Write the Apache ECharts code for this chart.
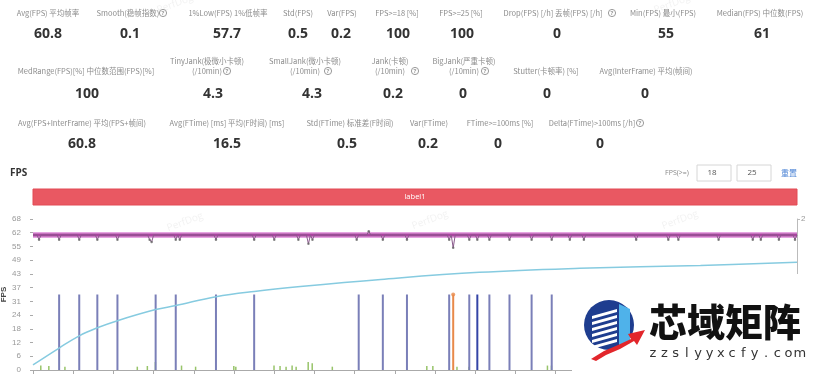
<!DOCTYPE html>
<html><head><meta charset="utf-8">
<script src="https://cdn.jsdelivr.net/npm/echarts@6/dist/echarts.min.js"></script>
<style>html,body{margin:0;padding:0;background:#fff}#c{width:832px;height:374px}</style>
</head><body><div id="c"></div>
<script>
// ---------- summary statistics ----------
const row1Labels = ['Avg(FPS) 平均帧率','Smooth(稳帧指数)','1%Low(FPS) 1%低帧率','Std(FPS)','Var(FPS)','FPS>=18 [%]','FPS>=25 [%]','Drop(FPS) [/h] 丢帧(FPS) [/h]','Min(FPS) 最小(FPS)','Median(FPS) 中位数(FPS)'];
const row1Values = ['60.8','0.1','57.7','0.5','0.2','100','100','0','55','61'];
const row2Labels = ['MedRange(FPS)[%] 中位数范围(FPS)[%]','TinyJank(极微小卡顿)\n(/10min)','SmallJank(微小卡顿)\n(/10min)','Jank(卡顿)\n(/10min)','BigJank(严重卡顿)\n(/10min)','Stutter(卡顿率) [%]','Avg(InterFrame) 平均(帧间)'];
const row2Values = ['100','4.3','4.3','0.2','0','0','0'];
const row3Labels = ['Avg(FPS+InterFrame) 平均(FPS+帧间)','Avg(FTime) [ms] 平均(F时间) [ms]','Std(FTime) 标准差(F时间)','Var(FTime)','FTime>=100ms [%]','Delta(FTime)>100ms [/h]'];
const row3Values = ['60.8','16.5','0.5','0.2','0','0'];

// ---------- chart data ----------
const yTickLabels = ['0','6','12','18','24','31','37','43','49','55','62','68'];
const sampleCount = 381;          // time samples 0..380
const fpsBase = 60.8;
const fpsBandOuter = [59.4, 62.1];
const fpsBandInner = [60.1, 61.5];
const fpsDipTimes  = [3, 13, 23, 32, 42, 58, 59, 71, 73, 91, 110, 120, 132, 137, 139, 161, 167, 174, 186, 207, 209, 217, 221, 227, 237, 248, 258, 267, 274, 300, 316, 321, 341, 358, 362, 371, 379];
const fpsDipValues = [58.7,58.7,58.7,58.7,58.7,58.7,57.6,58.7,58.7,58.7,58.7,58.7,58.7,56.8,58.7,58.7,62.5,58.7,58.7,58.7,55,58.7,58.7,58.7,58.7,58.7,58.7,58.7,58.7,58.7,58.7,58.7,58.7,58.7,58.7,58.7,58.7];
const smoothTimes  = [0, 13, 23, 32, 42, 61, 71, 91, 110, 133, 173, 222, 272, 332, 380];
const smoothValues = [2.3, 9.9, 15.4, 19, 22.2, 27.2, 29, 33, 35.4, 37.6, 40.8, 44, 45.8, 47.1, 48.5];
const jankTimes = [13, 23, 32, 42, 61, 71, 91, 110, 162, 174, 186, 207, 209, 217, 221, 227, 237, 248, 258];
const jankKinds = ['tiny','tiny','tiny','tiny','tiny','tiny','tiny','tiny','tiny','tiny','tiny','tiny','big','tiny','jank','tiny','tiny','tiny','tiny'];
const jankLevel = 1;
const minorTimes  = [4, 8, 16, 52, 57, 61, 74, 81, 100, 101, 120, 123, 126, 129, 131, 137, 139, 149, 196, 199, 211, 217, 256, 258];
const minorValues = [2, 1.8, 1.5, 1.5, 1.8, 3.6, 2, 1.5, 1.8, 1.5, 2, 1.8, 1.5, 2, 1.5, 3.6, 3, 1.5, 1.8, 1.8, 1.5, 1.5, 2, 2];

// ---------- layout (page positions of the stat block, not data) ----------
const row1LabelX = [48,128,228,298,342,397,461,553,663,760];
const row1ValueX = [48,130,227,298,341,398,462,557,666,762];
const row2LabelX = [86,207,305,390,464,546,646];
const row2ValueX = [87,213,312,393,463,547,645];
const row3LabelX = [82,227,350,429,500,592];
const row3ValueX = [82,227,347,428,498,600];
const helpIcons = [[163,13],[612,13],[227,71],[328,71],[415,71],[485,71],[640,123]];

const kindColor = {tiny:'#7a7fb8', jank:'#3444a6', big:'#e8894a'};
const CJK = '"Noto Sans CJK SC","Noto Sans",sans-serif';
const NUM = '"Open Sans","Noto Sans",sans-serif';

const g = [];
function label(x, y, t, va) {
  g.push({type:'text', x, y, silent:true, style:{text:t, fill:'#8c8c8c', fontSize:7.5, fontFamily:CJK, lineHeight:10,
    align:'center', textAlign:'center', verticalAlign:va||'middle', textVerticalAlign:va||'middle'}});
}
function value(x, y, t) {
  g.push({type:'text', x, y, silent:true, style:{text:t, fill:'#333', fontSize:14, fontWeight:'bold', fontFamily:NUM,
    align:'center', textAlign:'center', verticalAlign:'middle', textVerticalAlign:'middle'}});
}
row1Labels.forEach((t,i)=>{label(row1LabelX[i],13,t); value(row1ValueX[i],34,row1Values[i]);});
row2Labels.forEach((t,i)=>{label(row2LabelX[i],76,t,'bottom'); value(row2ValueX[i],94,row2Values[i]);});
row3Labels.forEach((t,i)=>{label(row3LabelX[i],123,t); value(row3ValueX[i],144,row3Values[i]);});
helpIcons.forEach(p=>{
  g.push({type:'circle', shape:{cx:p[0], cy:p[1], r:3.6}, silent:true, style:{fill:'#fff', stroke:'#9a9a9a', lineWidth:1}});
  g.push({type:'text', x:p[0], y:p[1]+0.3, silent:true, style:{text:'?', fill:'#9a9a9a', fontSize:6, fontWeight:'bold', fontFamily:NUM, align:'center', textAlign:'center', verticalAlign:'middle', textVerticalAlign:'middle'}});
});
// section header + controls
g.push({type:'text', x:10, y:173, silent:true, style:{text:'FPS', fill:'#333', fontSize:10, fontWeight:'bold', fontFamily:NUM, verticalAlign:'middle', textVerticalAlign:'middle'}});
g.push({type:'text', x:677, y:173, silent:true, style:{text:'FPS(>=)', fill:'#888', fontSize:7, fontFamily:NUM, align:'center', textAlign:'center', verticalAlign:'middle', textVerticalAlign:'middle'}});
[[697,34,'18'],[737,34,'25']].forEach(b=>{
  g.push({type:'rect', shape:{x:b[0], y:165, width:b[1], height:16}, silent:true, style:{fill:'#fff', stroke:'#d6d6d6', lineWidth:1}});
  g.push({type:'text', x:b[0]+b[1]/2-2, y:173, silent:true, style:{text:b[2], fill:'#555', fontSize:8, fontFamily:NUM, align:'center', textAlign:'center', verticalAlign:'middle', textVerticalAlign:'middle'}});
});
g.push({type:'text', x:789, y:173, silent:true, style:{text:'重置', fill:'#4f86d6', fontSize:8, fontFamily:CJK, align:'center', textAlign:'center', verticalAlign:'middle', textVerticalAlign:'middle'}});
// label bar
g.push({type:'rect', shape:{x:33, y:189, width:764, height:16}, silent:true, style:{fill:'#e95862', stroke:'#e24a55', lineWidth:1}});
g.push({type:'text', x:415, y:197, silent:true, style:{text:'label1', fill:'#fff', fontSize:7.5, fontFamily:NUM, align:'center', textAlign:'center', verticalAlign:'middle', textVerticalAlign:'middle'}});
// faint watermarks
[[185,222],[430,220],[680,220],[175,4],[672,4]].forEach(p=>{
  g.push({type:'text', x:p[0], y:p[1], rotation:0.35, silent:true, z:1, style:{text:'PerfDog', fill:'rgba(150,150,150,0.12)', fontSize:10, fontFamily:NUM, align:'center', textAlign:'center', verticalAlign:'middle', textVerticalAlign:'middle'}});
});
// overlay logo block
g.push({type:'rect', z:100, shape:{x:572, y:274, width:260, height:100}, silent:true, style:{fill:'#fff'}});
g.push({type:'circle', z:101, shape:{cx:609, cy:325, r:25}, silent:true, style:{fill:'#1e3d8f'}});
g.push({type:'polygon', z:102, shape:{points:[[619,304],[630,309],[630,343],[619,347]]}, silent:true, style:{fill:'#4fb2ea'}});
for (let k=0;k<6;k++){
  const y0 = 311 + k*6;
  g.push({type:'polygon', z:102, shape:{points:[[592,y0+5],[617,y0-2],[617,y0+1],[592,y0+8]]}, silent:true, style:{fill:'#ffffff'}});
}
g.push({type:'polygon', z:103, shape:{points:[[591,359],[604,351],[618,345],[631,339],[628,334],[645,330],[637,345],[634,341],[620,349],[606,355],[596,361]]}, silent:true, style:{fill:'#e2262b'}});
g.push({type:'text', z:103, x:725, y:322, silent:true, style:{text:'芯域矩阵', fill:'#111', fontSize:38, fontWeight:900, fontFamily:CJK, align:'center', textAlign:'center', verticalAlign:'middle', textVerticalAlign:'middle'}});
'zzslyyxcfy.com'.split('').forEach((ch,i)=>{
  g.push({type:'text', z:103, x:653+i*11.3, y:354, silent:true, style:{text:ch, fill:'#333', fontSize:13, fontFamily:'"DejaVu Sans",sans-serif', align:'center', textAlign:'center', verticalAlign:'middle', textVerticalAlign:'middle'}});
});

// ---------- series data ----------
const fpsData = [];
for (let i=0;i<sampleCount;i++){
  const k = fpsDipTimes.indexOf(i);
  fpsData.push([i, k>=0 ? fpsDipValues[k] : fpsBase]);
}
const dipDots = fpsDipTimes.map((t,i)=>[t, fpsDipValues[i]]);
const smoothData = smoothTimes.map((t,i)=>[t, smoothValues[i]]);
const jankData = jankTimes.map((t,i)=>({value:[t, jankLevel], itemStyle:{color:kindColor[jankKinds[i]]}}));
const bigDots = jankTimes.filter((t,i)=>jankKinds[i]==='big').map(t=>[t, jankLevel]);
const minorData = minorTimes.map((t,i)=>[t, minorValues[i]]);
const yStep = 68/11;

const chart = echarts.init(document.getElementById('c'), null, {renderer:'canvas'});
chart.setOption({
  animation:false,
  backgroundColor:'#fff',
  grid:{left:33, right:35, top:219, bottom:4, containLabel:false, outerBoundsMode:'none'},
  xAxis:{type:'value', min:0, max:380, interval:20,
    axisLine:{lineStyle:{color:'#aaa'}}, axisTick:{show:true, length:4, lineStyle:{color:'#aaa'}},
    axisLabel:{show:false}, splitLine:{show:false}},
  yAxis:[
    {type:'value', min:0, max:68, interval:yStep, offset:9,
     name:'FPS', nameLocation:'middle', nameGap:16, nameRotate:90, nameMoveOverlap:false,
     nameTextStyle:{fontSize:8, fontWeight:'bold', color:'#444'},
     axisLine:{show:false}, axisTick:{show:true, length:3, lineStyle:{color:'#aaa'}},
     axisLabel:{fontSize:8, color:'#999', margin:3, formatter:v=>yTickLabels[Math.round(v/yStep)]},
     splitLine:{show:false}},
    {type:'value', min:0, max:2, interval:1, position:'right',
     axisLine:{show:true, lineStyle:{color:'#bbb'}}, axisTick:{show:true, length:3, lineStyle:{color:'#bbb'}},
     axisLabel:{fontSize:8, color:'#999', margin:4}, splitLine:{show:false}}
  ],
  series:[
    {type:'bar', name:'minor', yAxisIndex:0, data:minorData, barWidth:1.5, barGap:'-100%', itemStyle:{color:'#98c46a'}},
    {type:'bar', name:'jank', yAxisIndex:1, data:jankData, barWidth:2, barGap:'-100%'},
    {type:'scatter', yAxisIndex:1, data:bigDots, symbolSize:4, itemStyle:{color:'#e8894a'}},
    {type:'line', name:'smooth', yAxisIndex:0, data:smoothData, smooth:0.4, showSymbol:false,
     lineStyle:{color:'#86cbe0', width:1.5}},
    {type:'line', name:'FPS', yAxisIndex:0, data:fpsData, showSymbol:false, z:5,
     lineStyle:{color:'#8a5a8c', width:1},
     markArea:{silent:true, data:[
       [{yAxis:fpsBandOuter[0], itemStyle:{color:'#e6a6e1'}},{yAxis:fpsBandOuter[1]}],
       [{yAxis:fpsBandInner[0], itemStyle:{color:'#a9449f'}},{yAxis:fpsBandInner[1]}]
     ]}},
    {type:'scatter', yAxisIndex:0, data:dipDots, symbolSize:2.5, z:6, itemStyle:{color:'#666'}}
  ],
  graphic:{elements:g}
});
</script></body></html>
